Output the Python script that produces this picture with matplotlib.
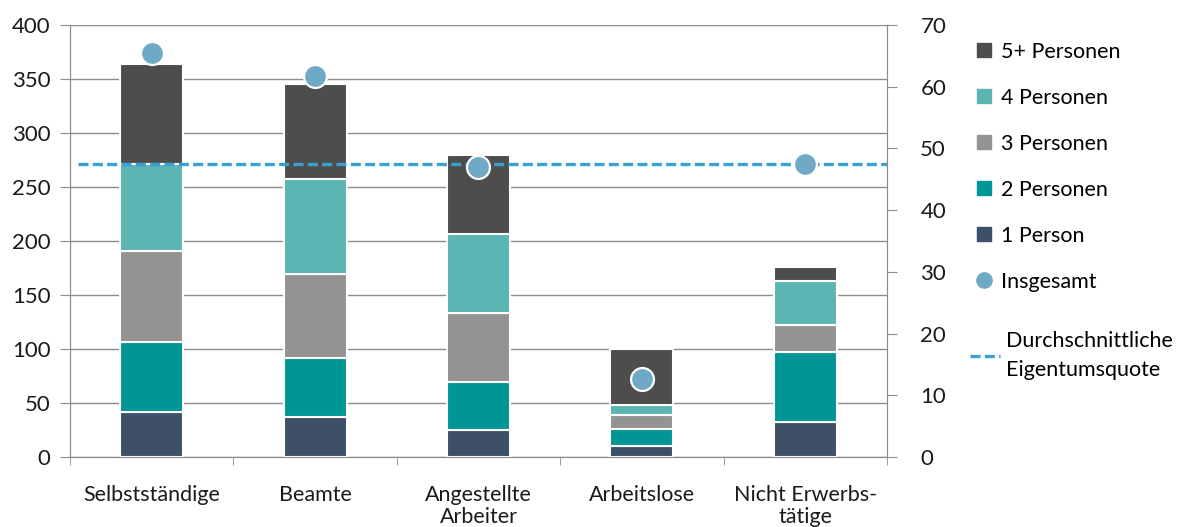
import matplotlib
matplotlib.use("Agg")
import matplotlib.pyplot as plt
from matplotlib.lines import Line2D
import numpy as np

categories = ["Selbstständige", "Beamte", "Angestellte\nArbeiter", "Arbeitslose", "Nicht Erwerbs-\ntätige"]
p1 = [42, 37, 25, 10, 32]
p2 = [64, 55, 44, 16, 65]
p3 = [84.5, 77, 64, 12.5, 25]
p4 = [81, 88, 73, 10, 41]
p5 = [92.5, 88, 73.5, 51, 12.5]
insgesamt = [65.5, 61.8, 47.0, 12.6, 47.5]
durchschnitt = 47.5

series_labels = ["1 Person", "2 Personen", "3 Personen", "4 Personen", "5+ Personen"]
colors = ["#3d5068", "#009696", "#939393", "#5bb5b2", "#4d4d4d"]
point_color = "#6eaac5"
line_color = "#3aa0d0"

plt.rcParams['font.family'] = ['Lato', 'DejaVu Sans']

fig = plt.figure(figsize=(11.84, 5.27), dpi=100)
ax = fig.add_axes([0.0591, 0.133, 0.690, 0.8196])
ax2 = ax.twinx()

x = np.arange(len(categories))
bottom = np.zeros(len(categories))
for vals, c in zip([p1, p2, p3, p4, p5], colors):
    ax.bar(x, vals, bottom=bottom, width=0.385, color=c, edgecolor="white",
           linewidth=1.5, zorder=3)
    bottom += np.array(vals)

ax.set_ylim(0, 400)
ax.set_xlim(-0.5, 4.5)
ax.set_yticks(np.arange(0, 401, 50))
ax.yaxis.grid(True, color="#8c8c8c", linewidth=1.0, zorder=0)
ax.set_axisbelow(True)

ax2.set_ylim(0, 70)
ax2.set_yticks(np.arange(0, 71, 10))
ax2.axhline(durchschnitt, xmin=0.01, xmax=1.0, color=line_color, linewidth=2.4,
            dashes=(3, 1.3), zorder=4)
ax2.plot(x, insgesamt, linestyle="none", marker="o", markersize=16.5,
         markerfacecolor=point_color, markeredgecolor="white", markeredgewidth=1.6, zorder=5)

ax.set_xticks(x)
ax.set_xticklabels(categories, fontsize=15.5, color="#1a1a1a", linespacing=1.15)
ax.set_xticks(np.arange(-0.5, 4.6, 1), minor=True)
ax.tick_params(axis="x", which="major", length=0, pad=20)
ax.tick_params(axis="x", which="minor", length=6, color="#8c8c8c", direction="out")
ax.tick_params(axis="y", length=7, color="#8c8c8c", labelsize=16, labelcolor="#1a1a1a", pad=7)
ax2.tick_params(axis="y", length=7, color="#8c8c8c", labelsize=16, labelcolor="#1a1a1a", pad=17)

for a in (ax, ax2):
    for s in a.spines.values():
        s.set_color("#8c8c8c")
    a.spines["top"].set_visible(False)

handles = [Line2D([], [], linestyle="none", marker="s", markersize=10,
                  markerfacecolor=c, markeredgecolor=c)
           for c in reversed(colors)]
handles.append(Line2D([], [], linestyle="none", marker="o", markersize=11,
                      markerfacecolor=point_color, markeredgecolor=point_color))
labels = list(reversed(series_labels)) + ["Insgesamt"]

leg1 = fig.legend(handles, labels, loc="upper left", bbox_to_anchor=(0.822, 0.921),
                  frameon=False, fontsize=15.5, labelspacing=1.21, handlelength=1.0,
                  handletextpad=0.3, borderaxespad=0, borderpad=0)
leg2 = fig.legend([Line2D([], [], color=line_color, linewidth=2.4, dashes=(3, 1.3))],
                  ["Durchschnittliche\nEigentumsquote"], loc="upper left",
                  bbox_to_anchor=(0.819, 0.372), frameon=False, fontsize=15.5,
                  handlelength=1.4, handletextpad=0.3, borderaxespad=0, borderpad=0)
for t in leg2.get_texts():
    t.set_linespacing(1.55)

fig.savefig("out.png", dpi=100)
